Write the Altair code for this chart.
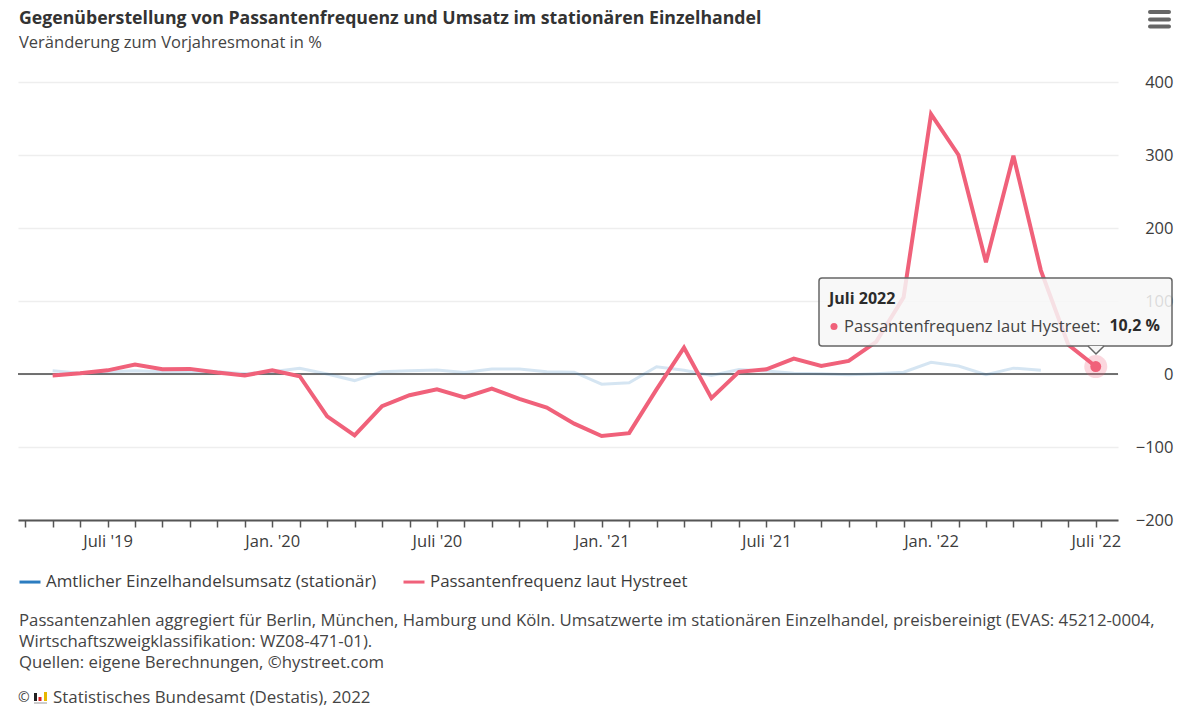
import json
import altair as alt
import pandas as pd

FONT = "Open Sans"
FS = 16.7
TITLE = "Gegenüberstellung von Passantenfrequenz und Umsatz im stationären Einzelhandel"
SUBTITLE = "Veränderung zum Vorjahresmonat in %"
SERIES = ["Amtlicher Einzelhandelsumsatz (stationär)", "Passantenfrequenz laut Hystreet"]
COLORS = ["#2b7cc0", "#f0617a"]
MONTH_LABELS = {3: "Juli '19", 9: "Jan. '20", 15: "Juli '20", 21: "Jan. '21",
                27: "Juli '21", 33: "Jan. '22", 39: "Juli '22"}
MONTHS = list(range(0, 40))
Y_TICKS = [-200, -100, 0, 100, 200, 300, 400]

umsatz = [4.5, 1, 3, 4.5, 3, 3, 3, 0.5, 3, 8, 0, -9, 3, 4.5, 5.5, 2, 7, 7, 3, 2.5,
          -14, -12, 10, 5, -2, 6, 4, 1, 0.5, -1, 0.5, 2.5, 16, 11, -1, 8, 5]
passanten = [-2, 1, 5, 13, 6.5, 7, 2, -2, 5, -3, -58, -84, -44, -29, -21, -32, -20,
             -34, -46, -68, -85, -81, -21, 36, -33, 3, 6.5, 21, 11, 18, 44, 105,
             356, 300, 153, 299, 142, 40, 10.2]

FOOT = ["Passantenzahlen aggregiert für Berlin, München, Hamburg und Köln. Umsatzwerte im stationären Einzelhandel, preisbereinigt (EVAS: 45212-0004,",
        "Wirtschaftszweigklassifikation: WZ08-471-01).",
        "Quellen: eigene Berechnungen, ©hystreet.com"]
CREDIT = "Statistisches Bundesamt (Destatis), 2022"
TIP_TITLE = "Juli 2022"
TIP_LABEL = "Passantenfrequenz laut Hystreet:"
TIP_VALUE = "10,2 %"

df = pd.DataFrame(
    [{"m": i + 1, "v": v, "s": SERIES[0]} for i, v in enumerate(umsatz)]
    + [{"m": i + 1, "v": v, "s": SERIES[1]} for i, v in enumerate(passanten)]
)
last = pd.DataFrame({"m": [MONTHS[-1]], "v": [passanten[-1]]})
zero = pd.DataFrame({"v": [0]})

labels_arr = [MONTH_LABELS.get(m, "") for m in MONTHS]
x_scale = alt.Scale(domain=[-0.262, 39.81], nice=False, zero=False)
y_scale = alt.Scale(domain=[-200, 400], nice=False)
x_axis = alt.Axis(
    values=MONTHS, labelExpr=f"{json.dumps(labels_arr)}[datum.value]", title=None, grid=False,
    domainColor="#555", domainWidth=2, tickColor="#555", tickWidth=1.5, tickSize=7,
    labelPadding=6, labelFontSize=16.5, labelColor="#3c3c3c", labelFont=FONT,
    labelOverlap=False, labelBaseline="top", labelFlush=False)
y_axis = alt.Axis(
    values=Y_TICKS, orient="right", title=None, grid=True, gridColor="#eeeeee", gridWidth=1.5,
    domain=False, ticks=False, labelPadding=55, labelAlign="right", labelFontSize=16.5,
    labelColor="#3c3c3c", labelFont=FONT)
color_enc = alt.Color("s:N", scale=alt.Scale(domain=SERIES, range=COLORS), legend=alt.Legend(
    orient="none", legendX=0, legendY=488, direction="horizontal", title=None,
    symbolType="stroke", symbolSize=441, symbolStrokeWidth=3, labelFontSize=16.9, labelLimit=500,
    labelFont=FONT, labelColor="#3c3c3c", labelOffset=4, columnPadding=20, padding=0, symbolOpacity=1))

X = alt.X("m:Q", scale=x_scale, axis=x_axis)
Y = alt.Y("v:Q", scale=y_scale, axis=y_axis)

base = alt.Chart(df)
zero_rule = alt.Chart(zero).mark_rule(color="#444", strokeWidth=1.5).encode(y=Y)
blue = base.transform_filter(alt.datum.s == SERIES[0]).mark_line(strokeWidth=3, opacity=0.2).encode(x=X, y=Y, color=color_enc)
red = base.transform_filter(alt.datum.s == SERIES[1]).mark_line(strokeWidth=4, strokeJoin="miter").encode(x=X, y=Y, color=color_enc)
halo = alt.Chart(last).mark_point(filled=True, size=530, opacity=0.25, color=COLORS[1]).encode(x=X, y=Y)
dot = alt.Chart(last).mark_point(filled=True, size=120, opacity=1, color=COLORS[1]).encode(x=X, y=Y)


def P(px, py):
    return {"x": alt.value(px - 18), "y": alt.value(py - 82)}


def text(t, px, py, size=FS, color="#444", weight="normal", align="left"):
    return alt.Chart(pd.DataFrame({"t": [t]})).mark_text(
        font=FONT, fontSize=size, color=color, fontWeight=weight, align=align, baseline="middle"
    ).encode(text="t:N", **P(px, py))


def hline(x1, x2, py, color, width, cap="butt"):
    return alt.Chart(pd.DataFrame({"a": [0]})).mark_rule(color=color, strokeWidth=width, strokeCap=cap).encode(
        x=alt.value(x1 - 18), x2=alt.value(x2 - 18), y=alt.value(py - 82))


def vbar(px, y1, y2, color):
    return alt.Chart(pd.DataFrame({"a": [0]})).mark_rule(color=color, strokeWidth=3).encode(
        x=alt.value(px - 18), y=alt.value(y1 - 82), y2=alt.value(y2 - 82))


box = alt.Chart(pd.DataFrame({"a": [0]})).mark_rect(
    fill="#f7f7f7", fillOpacity=0.85, stroke="#666", strokeWidth=1.5, cornerRadius=3
).encode(x=alt.value(819 - 18), x2=alt.value(1172 - 18), y=alt.value(278 - 82), y2=alt.value(346 - 82))
arrow = alt.Chart(pd.DataFrame({"a": [0]})).mark_point(
    shape="M-1,0L0,1L1,0", size=256, filled=True, fill="#f7f7f7", stroke="#666", strokeWidth=1.5, opacity=1
).encode(**P(1096, 346))
tipdot = alt.Chart(pd.DataFrame({"a": [0]})).mark_point(filled=True, size=50, color=COLORS[1], opacity=1).encode(**P(834, 326.5))

layers = [
    zero_rule, blue, red, halo, dot, box, arrow, tipdot,
    text(TITLE, 19, 19, 17.7, "#333", "bold"),
    text(SUBTITLE, 19, 43, 16.5, "#444"),
    text(TIP_TITLE, 829, 298.5, 16, "#2b2b2b", "bold"),
    text(TIP_LABEL, 844, 326.5, 16.55, "#444"),
    text(TIP_VALUE, 1160, 326, 16, "#2b2b2b", "bold", "right"),
    text(FOOT[0], 19, 621, 16.75), text(FOOT[1], 19, 642, 16.75), text(FOOT[2], 19, 662.5, 16.75),
    text("©", 18, 698, 14), vbar(35.5, 693, 701, "#222"), vbar(40, 697, 701, "#d22"), vbar(45.5, 692, 701, "#e8b800"),
    hline(34, 47, 703, "#ccc", 2),
    text(CREDIT, 53, 697.5, 16.9),
    hline(1150, 1169, 12, "#666", 4, "round"), hline(1150, 1169, 19.5, "#666", 4, "round"), hline(1150, 1169, 26.5, "#666", 4, "round"),
]

chart = alt.layer(*layers).resolve_scale(color="shared").properties(
    width=1100, height=438,
    padding={"left": 10, "top": 74, "right": 66, "bottom": 186},
    autosize=alt.AutoSizeParams(type="none"),
).configure_view(stroke=None)
chart.save("out.html", embed_options={"renderer": "svg", "actions": False})
